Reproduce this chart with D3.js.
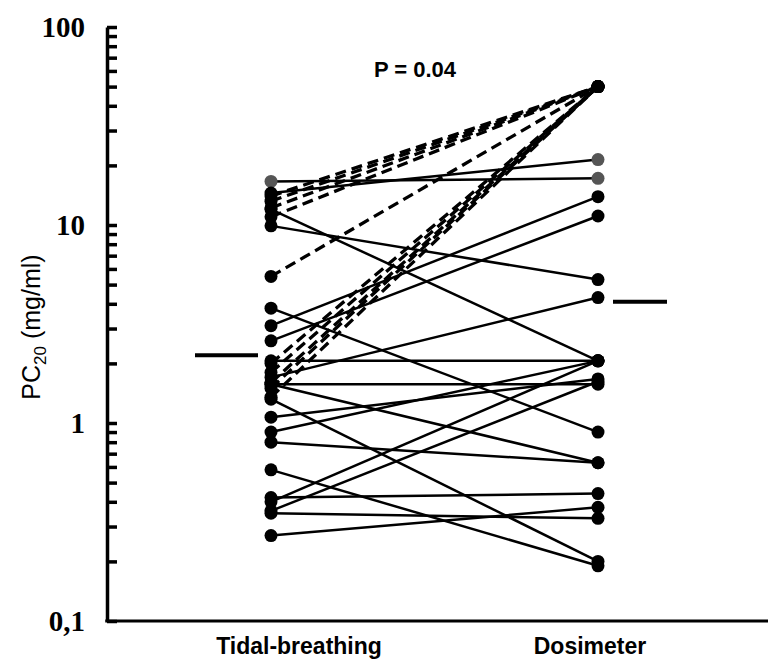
<!DOCTYPE html>
<html>
<head>
<meta charset="utf-8">
<script src="https://cdn.jsdelivr.net/npm/d3@7"></script>
<style>
  body { margin: 0; background: #fff; }
  svg { display: block; }
</style>
</head>
<body>
<svg id="chart" width="768" height="660"></svg>
<script>
// Methods on the x axis
const methods = ['Tidal-breathing', 'Dosimeter'];

// PC20 (mg/ml) per subject, same order in both arrays
const tidal = [
  16.6, 14.5, 14.0, 13.2, 12.2, 12.0, 11.0, 9.9, 5.5, 3.8,
  3.1, 2.6, 2.06, 2.0, 1.8, 1.7, 1.6, 1.57, 1.57, 1.5,
  1.35, 1.32, 1.07, 0.9, 0.8, 0.58, 0.42, 0.40, 0.36, 0.35,
  0.27
];
const dosimeter = [
  17.2, 21.4, 50, 50, 50, 2.06, 50, 5.3, 50, 0.9,
  13.9, 11.1, 2.06, 50, 50, 4.3, 50, 1.57, 0.63, 50,
  50, 0.2, 1.67, 2.06, 0.63, 0.19, 0.44, 2.06, 1.62, 0.33,
  0.375
];

// subjects whose markers are printed grey in the source figure
const greyTidal = [0];
const greyDosimeter = [0, 1];

// highest concentration given: PC20 not reached, drawn dashed
const maxDose = 50;

// group means
const means = [2.2, 4.1];

const yTicks = [0.1, 1, 10, 100];
const yTickLabels = ['0,1', '1', '10', '100'];

const svg = d3.select('#chart');

const y = d3.scaleLog()
  .domain([0.1, 100])
  .range([621, 27]);

const x = d3.scalePoint()
  .domain(methods)
  .range([271, 598]);

const AXIS_X = 107;

// y axis, ticks pointing inwards
const yAxis = d3.axisLeft(y)
  .tickValues(d3.range(-1, 2).flatMap(e => d3.range(1, 10).map(m => m * Math.pow(10, e))).concat([100]))
  .tickSizeInner(-10)
  .tickSizeOuter(0)
  .tickPadding(22)
  .tickFormat(d => {
    const i = yTicks.findIndex(t => Math.abs(t - d) < 1e-9);
    return i >= 0 ? yTickLabels[i] : '';
  });

const gy = svg.append('g')
  .attr('transform', `translate(${AXIS_X},0)`)
  .call(yAxis);

gy.select('.domain')
  .attr('stroke', '#000')
  .attr('stroke-width', 3.5);
gy.selectAll('.tick line')
  .attr('stroke', '#000')
  .attr('stroke-width', 3.5);
gy.selectAll('.tick text')
  .attr('font-family', '"Liberation Serif", "Times New Roman", serif')
  .attr('font-weight', 'bold')
  .attr('font-size', 29)
  .attr('fill', '#000');

// x axis line
svg.append('line')
  .attr('x1', AXIS_X - 1.75)
  .attr('x2', 768)
  .attr('y1', y(0.1))
  .attr('y2', y(0.1))
  .attr('stroke', '#000')
  .attr('stroke-width', 3);

// paired lines
const pairs = tidal.map((t, i) => ({ t, d: dosimeter[i], i }));

svg.append('g')
  .selectAll('line')
  .data(pairs)
  .join('line')
    .attr('x1', x(methods[0]))
    .attr('x2', x(methods[1]))
    .attr('y1', p => y(p.t))
    .attr('y2', p => y(p.d))
    .attr('stroke', '#000')
    .attr('stroke-width', p => p.d >= maxDose ? 3.3 : 2.5)
    .attr('stroke-dasharray', p => p.d >= maxDose ? '11,6' : null);

// markers
const dots = svg.append('g');
dots.selectAll('circle.tidal')
  .data(pairs)
  .join('circle')
    .attr('class', 'tidal')
    .attr('cx', x(methods[0]))
    .attr('cy', p => y(p.t))
    .attr('r', 6.5)
    .attr('fill', p => greyTidal.includes(p.i) ? '#555' : '#000');

dots.selectAll('circle.dosi')
  .data(pairs)
  .join('circle')
    .attr('class', 'dosi')
    .attr('cx', x(methods[1]))
    .attr('cy', p => y(p.d))
    .attr('r', 6.5)
    .attr('fill', p => greyDosimeter.includes(p.i) ? '#555' : '#000');

// mean bars beside each column
svg.append('g')
  .selectAll('line')
  .data(means)
  .join('line')
    .attr('x1', (m, i) => i === 0 ? x(methods[0]) - 76 : x(methods[1]) + 15)
    .attr('x2', (m, i) => i === 0 ? x(methods[0]) - 13 : x(methods[1]) + 69)
    .attr('y1', m => y(m))
    .attr('y2', m => y(m))
    .attr('stroke', '#000')
    .attr('stroke-width', 4);

// category labels
svg.append('g')
  .selectAll('text')
  .data(methods)
  .join('text')
    .attr('x', (m, i) => i === 0 ? 299 : 590)
    .attr('y', 654)
    .attr('text-anchor', 'middle')
    .attr('font-family', 'Arial, "Liberation Sans", sans-serif')
    .attr('font-weight', 'bold')
    .attr('font-size', 23)
    .text(d => d);

// p value
svg.append('text')
  .attr('x', 415)
  .attr('y', 77)
  .attr('text-anchor', 'middle')
  .attr('font-family', 'Arial, "Liberation Sans", sans-serif')
  .attr('font-weight', 'bold')
  .attr('font-size', 22)
  .text('P = 0.04');

// y label with subscript
const yl = svg.append('text')
  .attr('transform', 'translate(40,327) rotate(-90)')
  .attr('text-anchor', 'middle')
  .attr('font-family', 'Arial, "Liberation Sans", sans-serif')
  .attr('font-size', 25);
yl.append('tspan').text('PC');
yl.append('tspan').attr('font-size', 17).attr('dy', 6).text('20');
yl.append('tspan').attr('dy', -6).text(' (mg/ml)');
</script>
</body>
</html>
